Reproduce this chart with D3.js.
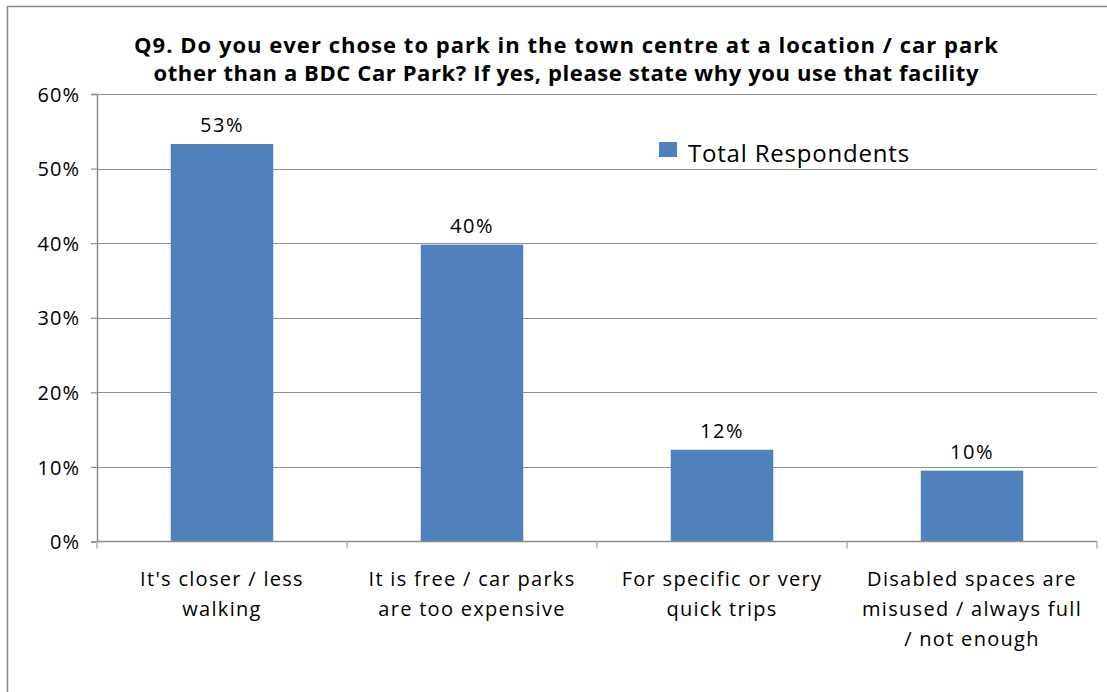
<!DOCTYPE html>
<html>
<head>
<meta charset="utf-8">
<script src="https://cdn.jsdelivr.net/npm/d3@7"></script>
<style>
  html, body { margin: 0; padding: 0; background: #fff; }
  svg { display: block; }
  text { font-family: "Open Sans", "Noto Sans", sans-serif; fill: #000; }
</style>
</head>
<body>
<svg id="chart" width="1107" height="692"></svg>
<script>
// Survey question and answer categories
const titleLines = [
  "Q9. Do you ever chose to park in the town centre at a location / car park",
  "other than a BDC Car Park? If yes, please state why you use that facility"
];
const titleWidths = [864, 825];
const categories = [
  ["It's closer / less", "walking"],
  ["It is free / car parks", "are too expensive"],
  ["For specific or very", "quick trips"],
  ["Disabled spaces are", "misused / always full", "/ not enough"]
];
const seriesName = "Total Respondents";
const values = [53.3, 39.8, 12.3, 9.5];   // percent of respondents
const yTicks = [0, 10, 20, 30, 40, 50, 60];

const svg = d3.select("#chart");
const W = 1107, H = 692;
const plot = { left: 97, right: 1097, top: 94, bottom: 541.5 };
const barColor = "#4f81bd";

// chart area frame
svg.append("rect")
  .attr("x", 7.5).attr("y", 6.5)
  .attr("width", W).attr("height", H)
  .attr("fill", "none").attr("stroke", "#868686").attr("stroke-width", 1.5);

const x = d3.scaleBand()
  .domain(d3.range(categories.length))
  .range([plot.left, plot.right])
  .paddingInner(0.59).paddingOuter(0.295);

const xOuter = d3.scaleBand()
  .domain(d3.range(categories.length))
  .range([plot.left, plot.right]);

const y = d3.scaleLinear().domain([0, 60]).range([plot.bottom, plot.top]);

// horizontal gridlines
svg.append("g").selectAll("line").data(yTicks.filter(d => d > 0)).join("line")
  .attr("x1", plot.left).attr("x2", plot.right)
  .attr("y1", d => Math.round(y(d)) + 0.5).attr("y2", d => Math.round(y(d)) + 0.5)
  .attr("stroke", "#8c8c8c").attr("stroke-width", 1.2);

// y axis
const yAxis = svg.append("g")
  .attr("transform", `translate(${plot.left},0)`)
  .call(d3.axisLeft(y).tickValues(yTicks).tickFormat(d => d + "%").tickSize(6).tickPadding(11));
yAxis.select(".domain").attr("stroke", "#8c8c8c").attr("stroke-width", 1.5);
yAxis.selectAll(".tick line").attr("stroke", "#8c8c8c").attr("stroke-width", 1.2);
yAxis.selectAll(".tick text")
  .attr("font-size", 20).attr("font-family", "Open Sans, sans-serif").attr("fill", "#000")
  .attr("letter-spacing", "1px")
  .attr("dy", "0.36em");

// bars
svg.append("g").selectAll("rect").data(values).join("rect")
  .attr("x", (d, i) => x(i))
  .attr("width", x.bandwidth())
  .attr("y", d => y(d))
  .attr("height", d => y(0) - y(d))
  .attr("fill", barColor);

// value labels
svg.append("g").selectAll("text").data(values).join("text")
  .attr("x", (d, i) => x(i) + x.bandwidth() / 2)
  .attr("y", d => y(d) - 12)
  .attr("text-anchor", "middle")
  .attr("font-size", 20)
  .attr("letter-spacing", "1.5px")
  .text(d => Math.round(d) + "%");

// x axis baseline and category separators
svg.append("line")
  .attr("x1", plot.left).attr("x2", plot.right)
  .attr("y1", plot.bottom).attr("y2", plot.bottom)
  .attr("stroke", "#8c8c8c").attr("stroke-width", 1.5);
const sepX = d3.range(categories.length + 1).map(i =>
  i < categories.length ? xOuter(i) : xOuter(i - 1) + xOuter.bandwidth());
svg.append("g").selectAll("line").data(sepX).join("line")
  .attr("x1", d => d).attr("x2", d => d)
  .attr("y1", plot.bottom).attr("y2", plot.bottom + 7)
  .attr("stroke", "#b4b4b4").attr("stroke-width", 1.5);

// category labels
const catG = svg.append("g").selectAll("text").data(categories).join("text")
  .attr("text-anchor", "middle")
  .attr("font-size", 20)
  .attr("letter-spacing", "1.3px")
  .attr("transform", (d, i) => `translate(${xOuter(i) + xOuter.bandwidth() / 2},0)`);
catG.selectAll("tspan").data(d => d).join("tspan")
  .attr("x", 0)
  .attr("y", (d, j) => 586 + j * 30)
  .text(d => d);

// title
svg.append("g").selectAll("text").data(titleLines).join("text")
  .attr("x", 566)
  .attr("y", (d, i) => 53 + i * 28)
  .attr("text-anchor", "middle")
  .attr("font-size", 22)
  .attr("font-weight", "bold")
  .attr("textLength", (d, i) => titleWidths[i])
  .attr("lengthAdjust", "spacing")
  .text(d => d);

// legend
const leg = svg.append("g").attr("transform", "translate(659,142)");
leg.append("rect").attr("width", 18).attr("height", 15).attr("fill", barColor);
leg.append("text").attr("x", 29).attr("y", 20).attr("font-size", 24)
  .attr("letter-spacing", "0.8px").text(seriesName);
</script>
</body>
</html>
